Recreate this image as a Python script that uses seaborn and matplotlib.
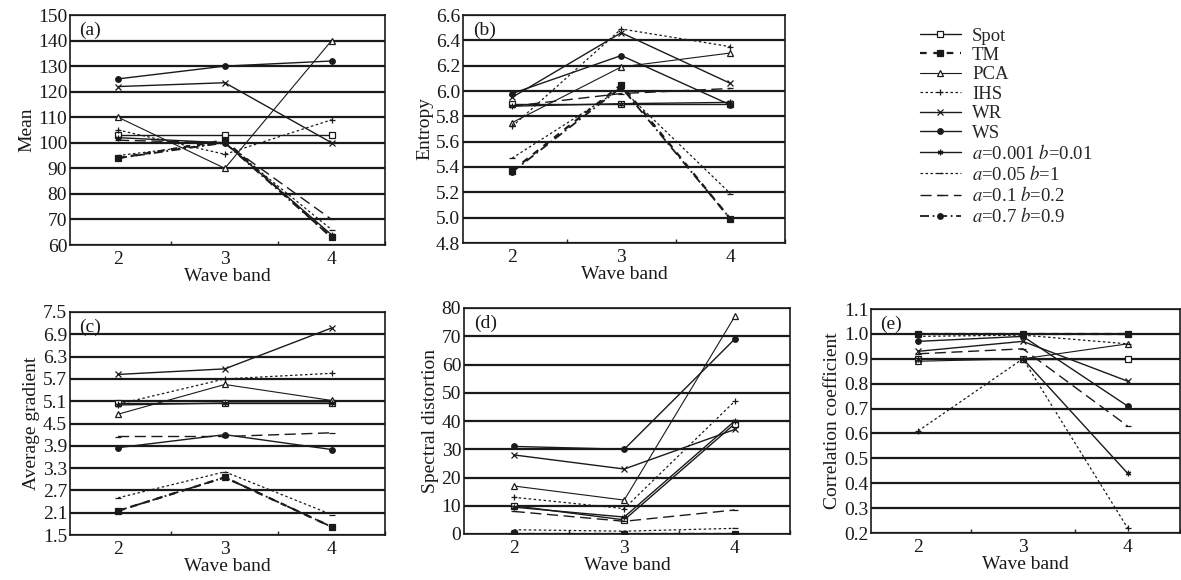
import numpy as np
import pandas as pd
import seaborn as sns
import matplotlib.pyplot as plt
from matplotlib.ticker import MultipleLocator, FixedLocator

# wave bands on the x axis
bands = [2, 3, 4]

methods = ['Spot', 'TM', 'PCA', 'IHS', 'WR', 'WS',
           r'$a$=0.001 $b$=0.01', r'$a$=0.05 $b$=1',
           r'$a$=0.1 $b$=0.2', r'$a$=0.7 $b$=0.9']

# (a) mean
mean_vals = [[103, 103, 103], [94, 101, 63], [110, 90, 140], [105, 95.5, 109],
             [122, 123.5, 100], [125, 130, 132], [102, 100, 64], [95, 100, 66],
             [101, 100, 70], [94, 100, 63]]
# (b) entropy
entropy_vals = [[5.90, 5.90, 5.90], [5.37, 6.05, 4.99], [5.75, 6.19, 6.30], [5.72, 6.49, 6.35],
                [5.95, 6.46, 6.06], [5.98, 6.28, 5.89], [5.88, 5.90, 5.91], [5.47, 6.02, 5.19],
                [5.88, 5.98, 6.02], [5.36, 6.03, 4.99]]
# (c) average gradient
gradient_vals = [[5.05, 5.05, 5.05], [2.15, 3.05, 1.72], [4.75, 5.55, 5.12], [5.02, 5.70, 5.85],
                 [5.82, 5.97, 7.07], [3.85, 4.20, 3.80], [5.00, 5.05, 5.05], [2.50, 3.20, 2.05],
                 [4.15, 4.15, 4.25], [2.15, 3.05, 1.72]]
# (d) spectral distortion
distortion_vals = [[10, 5, 39], [0, 0, 0], [17, 12, 77], [13, 9, 47],
                   [28, 23, 37], [31, 30, 69], [9.5, 6, 40], [1.5, 1, 2],
                   [8, 4.5, 8.5], [0, 0, 0]]
# (e) correlation coefficient
corr_vals = [[0.90, 0.90, 0.90], [1.00, 1.00, 1.00], [0.89, 0.90, 0.96], [0.61, 0.90, 0.22],
             [0.93, 0.97, 0.81], [0.97, 0.99, 0.71], [0.90, 0.90, 0.44], [0.99, 0.995, 0.96],
             [0.92, 0.94, 0.63], [1.00, 1.00, 1.00]]

# line style and marker for each method
styles = [('-', 's', 'white'), ((0, (3, 3)), 's', 'k'), ('-', '^', 'white'), ((0, (2, 2)), '+', 'k'),
          ('-', 'x', 'k'), ('-', 'o', 'k'), ('-', (6, 2, 0), 'k'), ((0, (2, 2)), '_', 'k'),
          ((0, (8, 4)), '_', 'k'), ((0, (5, 2, 1, 2)), 'o', 'k')]
widths = [1.0, 1.6, 0.8, 0.9, 1.0, 1.0, 1.0, 0.9, 1.0, 1.3]

sns.set_theme(style='white')
plt.rcParams['font.family'] = ['Liberation Serif', 'DejaVu Serif']
plt.rcParams['mathtext.fontset'] = 'stix'

fig = plt.figure(figsize=(11.81, 5.8), dpi=100)

W, H = 1181, 580
def px_axes(l, t, r, b):
    return fig.add_axes([l / W, 1 - b / H, (r - l) / W, (b - t) / H])

panels = [
    ('(a)', 'Mean', mean_vals, (60, 150), 10, '%d', (70, 15, 385, 245)),
    ('(b)', 'Entropy', entropy_vals, (4.8, 6.6), 0.2, '%.1f', (463, 15, 785, 243)),
    ('(c)', 'Average gradient', gradient_vals, (1.5, 7.5), 0.6, '%.1f', (70, 312, 385, 535)),
    ('(d)', 'Spectral distortion', distortion_vals, (0, 80), 10, '%d', (464, 308, 790, 534)),
    ('(e)', 'Correlation coefficient', corr_vals, (0.2, 1.1), 0.1, '%.1f', (871, 309, 1180, 533)),
]

for tag, ylabel, vals, ylim, step, fmt, box in panels:
    ax = px_axes(*box)
    df = pd.DataFrame({'band': bands * len(methods),
                       'value': np.array(vals).ravel(),
                       'method': np.repeat(methods, len(bands))})
    for i, m in enumerate(methods):
        ls, mk, fc = styles[i]
        sns.lineplot(data=df[df['method'] == m], x='band', y='value', ax=ax,
                     color='k', linestyle=ls, marker=mk, markersize=4,
                     markerfacecolor=fc, markeredgecolor='k', markeredgewidth=0.9,
                     linewidth=widths[i], label=m, legend=False)
    ax.set_xlim(1.55, 4.5)
    ax.set_ylim(*ylim)
    ax.set_xticks(bands)
    ax.xaxis.set_minor_locator(MultipleLocator(0.5))
    nt = int(round((ylim[1] - ylim[0]) / step))
    ax.yaxis.set_major_locator(FixedLocator([ylim[0] + k * step for k in range(nt + 1)]))
    ax.yaxis.set_major_formatter(plt.FormatStrFormatter(fmt))
    ax.grid(axis='y', color='k', linewidth=1.6)
    ax.set_axisbelow(True)
    ax.tick_params(axis='both', labelsize=14, direction='in', length=4, pad=4, colors='k')
    ax.tick_params(axis='x', which='minor', direction='in', length=3, bottom=True)
    ax.tick_params(axis='x', which='major', bottom=False)
    ax.tick_params(axis='y', left=False, pad=2)
    for s in ax.spines.values():
        s.set_color('k')
        s.set_linewidth(1.2)
    ax.set_xlabel('Wave band', fontsize=14, color='k', labelpad=0)
    ax.set_ylabel(ylabel, fontsize=14, color='k', labelpad=2)
    ax.text(0.03, 0.97, tag, transform=ax.transAxes, ha='left', va='top', fontsize=14, color='k')

# legend in the empty top-right slot
leg_ax = px_axes(912, 20, 1170, 230)
leg_ax.axis('off')
h, l = fig.axes[0].get_legend_handles_labels()
leg_ax.legend(h, l, loc='upper left', frameon=False, fontsize=13.5, handlelength=2.2,
              labelspacing=0.12, handletextpad=0.6, borderaxespad=0)

fig.savefig('out.png', dpi=100)
